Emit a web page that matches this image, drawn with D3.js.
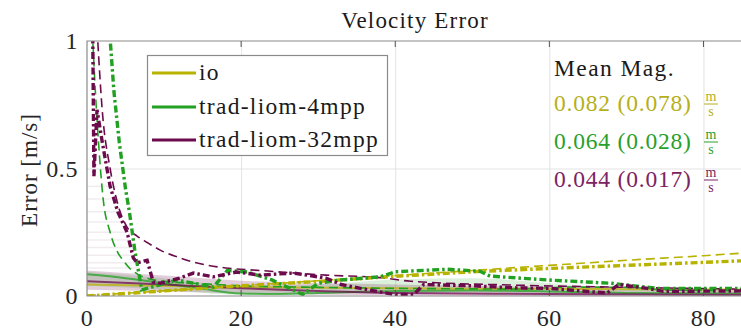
<!DOCTYPE html>
<html>
<head>
<meta charset="utf-8">
<script src="https://cdn.jsdelivr.net/npm/d3@7"></script>
<style>
body { margin: 0; background: #fff; }
</style>
</head>
<body>
<svg id="chart" width="741" height="331"></svg>
<script>

// ---- data ----
var seriesNames = ["io", "trad-liom-4mpp", "trad-liom-32mpp"];
var seriesColors = ["#b8b200", "#22a022", "#6c0b4c"];
var textColors = ["#b5b01a", "#2a9f2a", "#7c2362"];
var meanMag = ["0.082 (0.078)", "0.064 (0.028)", "0.044 (0.017)"];

var xTicks = [0, 20, 40, 60, 80];
var yTicks = [0, 0.5, 1];

// io
var ioDashDot = [[0,0],[5,0.01],[10,0.02],[20,0.04],[30,0.057],[40,0.077],[50,0.095],[60,0.108],[70,0.12],[80,0.132],[85,0.138]];
var ioDashed = [[0,0.002],[10,0.02],[20,0.04],[30,0.06],[40,0.08],[50,0.1],[60,0.12],[70,0.14],[80,0.158],[85,0.168]];
var ioSolid = [[0,0.045],[10,0.04],[20,0.035],[40,0.03],[60,0.028],[85,0.025]];

// trad-liom-4mpp
var g4DashDot = [[2.9,1.05],[3.5,0.8],[4.2,0.6],[5,0.42],[5.5,0.33],[6.2,0.18],[7.1,0.024],[9,0.04],[11.7,0.063],[13.8,0.05],[16.4,0.035],[18.2,0.1],[20.8,0.094],[24,0.063],[28,0.006],[30,0.05],[33,0.063],[38,0.075],[40,0.095],[46.7,0.105],[51,0.097],[52.3,0.078],[59.7,0.063],[68,0.05],[74,0.03],[85,0.03]];
var g4Dashed = [[0.6,1.1],[1,0.85],[1.5,0.6],[2.1,0.38],[3,0.25],[4,0.17],[4.7,0.14],[5.5,0.11],[6.6,0.085],[8,0.068],[10,0.058],[15,0.048],[20,0.04],[30,0.034],[40,0.03],[50,0.028],[55,0.027],[63,0.035],[70,0.034],[75,0.024],[85,0.02]];
var g4Solid = [[0,0.085],[5,0.07],[10,0.05],[15,0.028],[20,0.01],[25,0.008],[30,0.012],[40,0.02],[50,0.022],[60,0.018],[70,0.012],[85,0.01]];
var g4BandLow = [[0,0.04],[10,0.025],[20,0.005],[30,0.008],[40,0.012],[50,0.015],[60,0.01],[70,0.005],[85,0.0]];
var g4BandHigh = [[0,0.095],[10,0.07],[20,0.04],[30,0.045],[40,0.065],[50,0.07],[60,0.05],[70,0.03],[85,0.02]];

// trad-liom-32mpp
var p32DashDot = [[0.7,1.2],[0.9,0.47],[1.3,0.73],[2,0.6],[3,0.43],[4,0.33],[5.2,0.25],[6,0.15],[6.5,0.13],[7.8,0.14],[8.6,0.055],[9.5,0.05],[12,0.07],[13.8,0.09],[16.4,0.075],[19.4,0.094],[22.5,0.082],[26.8,0.09],[31,0.07],[33,0.045],[35.5,0.03],[39.8,0.006],[42.4,0.006],[43.7,0.045],[50,0.04],[55.3,0.032],[60,0.03],[64,0.02],[67.5,0.012],[69,0.045],[72.7,0.03],[74.8,0.018],[85,0.02]];
var p32Dashed = [[1.3,1.05],[2,0.72],[3,0.5],[4,0.36],[5.2,0.27],[6.5,0.235],[7.8,0.21],[9.5,0.18],[12,0.15],[13.8,0.133],[18,0.11],[22.5,0.1],[31,0.082],[38,0.072],[42,0.058],[55,0.043],[68,0.035],[85,0.027]];
var p32Solid = [[0,0.058],[10,0.045],[20,0.03],[30,0.02],[40,0.012],[60,0.008],[85,0.005]];
var p32BandLow = [[0,0.025],[10,0.018],[20,0.01],[40,0.003],[60,0.0],[85,0.0]];
var p32BandHigh = [[0,0.1],[10,0.08],[20,0.06],[30,0.045],[40,0.035],[60,0.022],[85,0.014]];

// faint spread lines near the start
var hazeLevels = [0.11, 0.13, 0.16, 0.19, 0.22, 0.25, 0.29, 0.33, 0.38, 0.43];

var dashDotSets = [ioDashDot, g4DashDot, p32DashDot];
var dashedSets = [ioDashed, g4Dashed, p32Dashed];
var solidSets = [ioSolid, g4Solid, p32Solid];

// ---- layout ----
// (window.top is read-only, so no "top" global here)
var svg = d3.select("#chart");
var plotL = 87, plotT = 41, plotB = 296, plotR = 742;
var serif = "\"Liberation Serif\", \"Times New Roman\", Tinos, \"Noto Serif\", \"DejaVu Serif\", FreeSerif, serif";

var x = d3.scaleLinear().domain([0, 85]).range([plotL, plotR]);
var y = d3.scaleLinear().domain([0, 1]).range([plotB, plotT]);

svg.append("defs").append("clipPath").attr("id", "plotclip")
    .append("rect")
    .attr("x", plotL).attr("y", plotT)
    .attr("width", plotR - plotL).attr("height", plotB - plotT);

// grid
svg.append("g")
    .attr("transform", "translate(0," + plotB + ")")
    .call(d3.axisBottom(x).tickValues(xTicks.slice(1)).tickSize(-(plotB - plotT)).tickFormat(""))
    .call(function(g){ g.select(".domain").remove(); })
    .selectAll("line").style("stroke", "#e3e3e3").style("stroke-width", 1);

svg.append("g")
    .attr("transform", "translate(" + plotL + ",0)")
    .call(d3.axisLeft(y).tickValues([0.5]).tickSize(-(plotR - plotL)).tickFormat(""))
    .call(function(g){ g.select(".domain").remove(); })
    .selectAll("line").style("stroke", "#e3e3e3").style("stroke-width", 1);

var plot = svg.append("g").attr("clip-path", "url(#plotclip)");

var line = d3.line().x(function(d){ return x(d[0]); }).y(function(d){ return y(d[1]); });
var smooth = d3.line().curve(d3.curveMonotoneX).x(function(d){ return x(d[0]); }).y(function(d){ return y(d[1]); });

function bandArea(low, high){
    var pts = low.map(function(d, i){ return [d[0], d[1], high[i][1]]; });
    return d3.area().curve(d3.curveMonotoneX)
        .x(function(d){ return x(d[0]); })
        .y0(function(d){ return y(d[1]); })
        .y1(function(d){ return y(d[2]); })(pts);
}

// haze
plot.selectAll(".haze")
    .data(hazeLevels)
    .enter().append("line")
    .attr("x1", x(0)).attr("x2", function(d, i){ return x(7 - i * 0.35); })
    .attr("y1", function(d){ return y(d); }).attr("y2", function(d){ return y(d); })
    .style("stroke", "#cdb8c6")
    .style("stroke-width", 1.5)
    .style("opacity", 0.25);

// bands
plot.append("path").attr("d", bandArea(g4BandLow, g4BandHigh))
    .style("fill", seriesColors[1]).style("opacity", 0.16);
plot.append("path").attr("d", bandArea(p32BandLow, p32BandHigh))
    .style("fill", seriesColors[2]).style("opacity", 0.2);

// solid lines
solidSets.forEach(function(s, i){
    plot.append("path")
        .attr("d", smooth(s))
        .style("fill", "none")
        .style("stroke", seriesColors[i])
        .style("stroke-width", 2)
        .style("opacity", 0.75);
});

// dashed lines
dashedSets.forEach(function(s, i){
    plot.append("path")
        .attr("d", smooth(s))
        .style("fill", "none")
        .style("stroke", seriesColors[i])
        .style("stroke-width", 1.6)
        .style("stroke-dasharray", "9,5");
});

// dash-dot lines
dashDotSets.forEach(function(s, i){
    plot.append("path")
        .attr("d", line(s))
        .style("fill", "none")
        .style("stroke", seriesColors[i])
        .style("stroke-width", 3.4)
        .style("stroke-dasharray", "7,3,2.5,3");
});

// axes box
svg.append("path")
    .attr("d", "M" + plotR + "," + plotT + "H" + plotL + "V" + plotB + "H" + plotR)
    .style("fill", "none").style("stroke", "#8a8a8a").style("stroke-width", 1.2);

// inward ticks
svg.append("g").selectAll("line")
    .data(xTicks.slice(1))
    .enter().append("line")
    .attr("x1", function(d){ return x(d); }).attr("x2", function(d){ return x(d); })
    .attr("y1", plotB).attr("y2", plotB - 6)
    .style("stroke", "#555");
svg.append("g").selectAll("line")
    .data(xTicks.slice(1))
    .enter().append("line")
    .attr("x1", function(d){ return x(d); }).attr("x2", function(d){ return x(d); })
    .attr("y1", plotT).attr("y2", plotT + 6)
    .style("stroke", "#555");

// tick labels
svg.append("g").selectAll("text")
    .data(xTicks)
    .enter().append("text")
    .attr("x", function(d){ return x(d); })
    .attr("y", 326)
    .attr("text-anchor", "middle")
    .style("font-family", serif)
    .style("font-size", "24px")
    .style("letter-spacing", "0.6px")
    .style("fill", "#262626")
    .text(function(d){ return d; });

svg.append("g").selectAll("text")
    .data(yTicks)
    .enter().append("text")
    .attr("x", 78)
    .attr("y", function(d){ return y(d) + 8; })
    .attr("text-anchor", "end")
    .style("font-family", serif)
    .style("font-size", "24px")
    .style("letter-spacing", "0.6px")
    .style("fill", "#262626")
    .text(function(d){ return d; });

// title + y label
svg.append("text")
    .attr("x", 415).attr("y", 28)
    .attr("text-anchor", "middle")
    .style("font-family", serif)
    .style("font-size", "23px")
    .style("letter-spacing", "1.2px")
    .style("fill", "#1a1a1a")
    .text("Velocity Error");

svg.append("text")
    .attr("transform", "translate(37,170) rotate(-90)")
    .attr("text-anchor", "middle")
    .style("font-family", serif)
    .style("font-size", "23px")
    .style("letter-spacing", "1px")
    .style("fill", "#262626")
    .text("Error [m/s]");

// legend
var legend = svg.append("g");
legend.append("rect")
    .attr("x", 147.5).attr("y", 55.5)
    .attr("width", 240).attr("height", 100)
    .style("fill", "#fff").style("stroke", "#8a8a8a").style("stroke-width", 1.2);

var legendY = [73, 107, 140];
seriesNames.forEach(function(name, i){
    legend.append("line")
        .attr("x1", 152).attr("x2", 196)
        .attr("y1", legendY[i]).attr("y2", legendY[i])
        .style("stroke", seriesColors[i]).style("stroke-width", 3);
    legend.append("text")
        .attr("x", 199).attr("y", legendY[i] + 7)
        .style("font-family", serif)
        .style("font-size", "23.5px")
        .style("letter-spacing", "1.3px")
        .style("fill", "#1a1a1a")
        .text(name);
});

// mean magnitude annotation
svg.append("text")
    .attr("x", 554).attr("y", 76)
    .style("font-family", serif)
    .style("font-size", "23.5px")
    .style("letter-spacing", "1.4px")
    .style("fill", "#1a1a1a")
    .text("Mean Mag.");

var magY = [103, 141, 179];
meanMag.forEach(function(m, i){
    svg.append("text")
        .attr("x", 554).attr("y", magY[i] + 8)
        .style("font-family", serif)
        .style("font-size", "23.5px")
        .style("letter-spacing", "0.8px")
        .style("fill", textColors[i])
        .text(m);
    svg.append("text")
        .attr("x", 711).attr("y", magY[i] - 2)
        .attr("text-anchor", "middle")
        .style("font-family", serif)
        .style("font-size", "14px")
        .style("fill", textColors[i])
        .text("m");
    svg.append("line")
        .attr("x1", 704).attr("x2", 718)
        .attr("y1", magY[i] + 1).attr("y2", magY[i] + 1)
        .style("stroke", textColors[i]).style("stroke-width", 1);
    svg.append("text")
        .attr("x", 711).attr("y", magY[i] + 13)
        .attr("text-anchor", "middle")
        .style("font-family", serif)
        .style("font-size", "14px")
        .style("fill", textColors[i])
        .text("s");
});

</script>
</body>
</html>
